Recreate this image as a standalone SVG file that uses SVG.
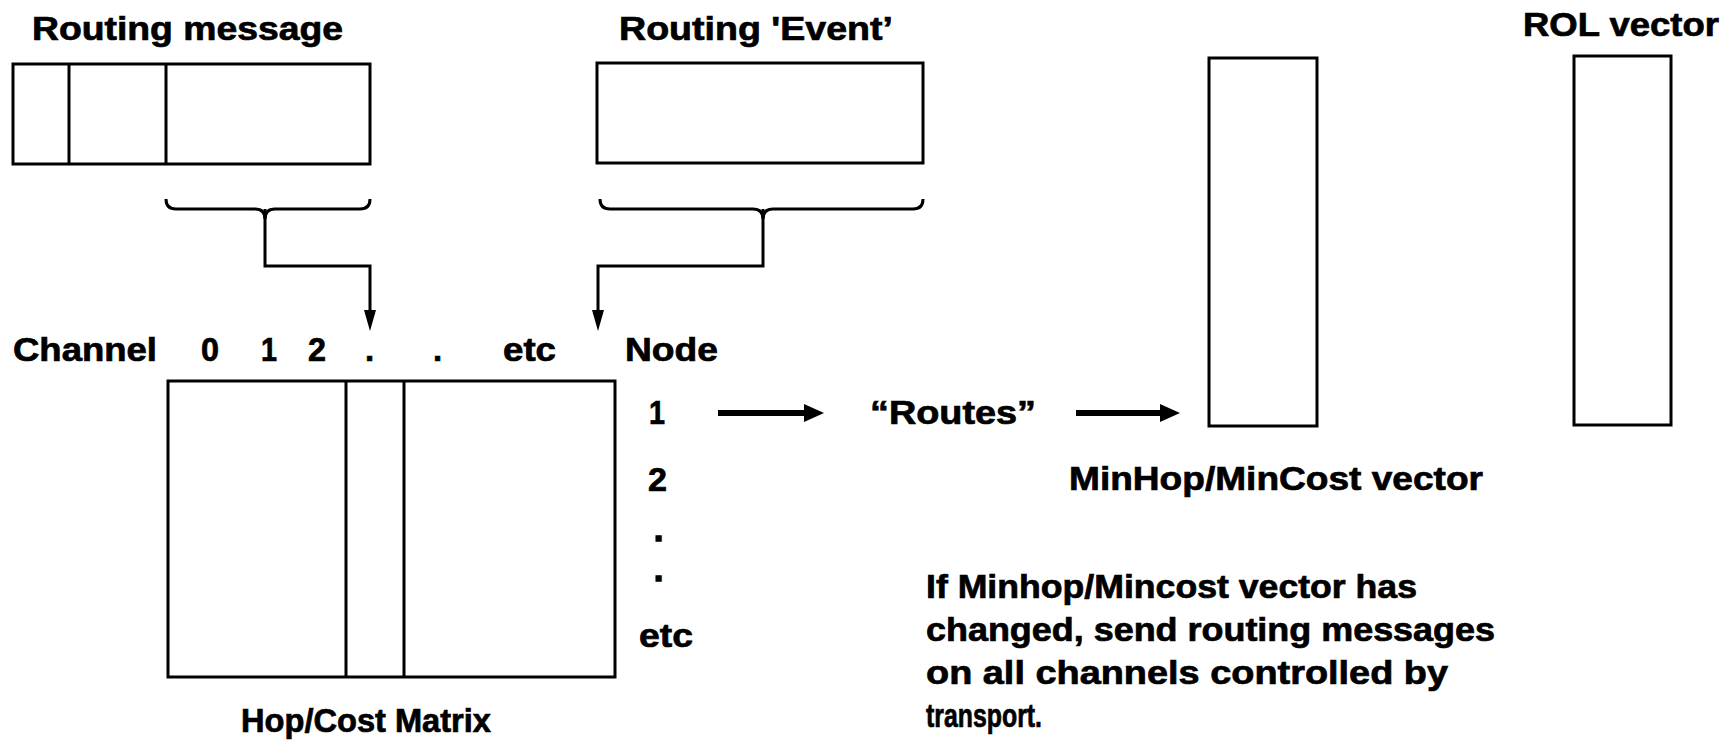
<svg xmlns="http://www.w3.org/2000/svg" width="1733" height="741" viewBox="0 0 1733 741">
<style>
text{font-family:"Liberation Sans",Arial,sans-serif;font-weight:bold;font-size:33px;fill:#000;stroke:#000;stroke-width:0.7}
text.dot{stroke-width:1.6}
.box{fill:none;stroke:#000;stroke-width:3}
.ln{fill:none;stroke:#000;stroke-width:3}
.thick{fill:none;stroke:#000;stroke-width:6}
.head{fill:#000}
</style>

<g id="routing-message">
<text x="32" y="40" textLength="311" lengthAdjust="spacingAndGlyphs">Routing message</text>
<rect class="box" x="13" y="64" width="357" height="100"/>
<line class="ln" x1="69" y1="64" x2="69" y2="164"/>
<line class="ln" x1="166" y1="64" x2="166" y2="164"/>
</g>

<g id="routing-event">
<text x="619" y="40" textLength="274" lengthAdjust="spacingAndGlyphs">Routing 'Event’</text>
<rect class="box" x="597" y="63" width="326" height="100"/>
</g>

<g id="rol-vector">
<text x="1523" y="36" textLength="196" lengthAdjust="spacingAndGlyphs">ROL vector</text>
<rect class="box" x="1574" y="56" width="97" height="369"/>
</g>

<g id="minhop-vector">
<rect class="box" x="1209" y="58" width="108" height="368"/>
<text x="1069" y="490" textLength="414" lengthAdjust="spacingAndGlyphs">MinHop/MinCost vector</text>
</g>

<g id="matrix">
<text x="13" y="361" textLength="144" lengthAdjust="spacingAndGlyphs">Channel</text>
<text x="201" y="361" textLength="18" lengthAdjust="spacingAndGlyphs">0</text>
<text x="261" y="361" textLength="16" lengthAdjust="spacingAndGlyphs">1</text>
<text x="308" y="361" textLength="18" lengthAdjust="spacingAndGlyphs">2</text>
<text x="365" y="361">.</text>
<text x="433" y="361">.</text>
<text x="503" y="361" textLength="53" lengthAdjust="spacingAndGlyphs">etc</text>
<text x="625" y="361" textLength="93" lengthAdjust="spacingAndGlyphs">Node</text>
<rect class="box" x="168" y="381" width="447" height="296"/>
<line class="ln" x1="346" y1="381" x2="346" y2="677"/>
<line class="ln" x1="404" y1="381" x2="404" y2="677"/>
<text x="649" y="424" textLength="16" lengthAdjust="spacingAndGlyphs">1</text>
<text x="648" y="491" textLength="19" lengthAdjust="spacingAndGlyphs">2</text>
<text class="dot" x="654" y="541">.</text>
<text class="dot" x="654" y="581">.</text>
<text x="639" y="647" textLength="54" lengthAdjust="spacingAndGlyphs">etc</text>
<text x="241" y="732" textLength="250" lengthAdjust="spacingAndGlyphs">Hop/Cost Matrix</text>
</g>

<g id="routes">
<text x="870" y="424" textLength="166" lengthAdjust="spacingAndGlyphs">“Routes”</text>
</g>

<g id="note">
<text x="926" y="598" textLength="491" lengthAdjust="spacingAndGlyphs">If Minhop/Mincost vector has</text>
<text x="926" y="641" textLength="569" lengthAdjust="spacingAndGlyphs">changed, send routing messages</text>
<text x="926" y="684" textLength="522" lengthAdjust="spacingAndGlyphs">on all channels controlled by</text>
<text x="926" y="727" textLength="116" lengthAdjust="spacingAndGlyphs">transport.</text>
</g>

<g id="connectors">
<path class="ln" d="M166,199 Q166,209 176,209 L255,209 Q265,209 265,219 Q265,209 275,209 L360,209 Q370,209 370,199"/>
<path class="ln" d="M265,209 L265,266 L370,266 L370,312"/>
<path class="head" d="M364,310 L370,331 L376,310 Z"/>
<path class="ln" d="M600,199 Q600,209 610,209 L753,209 Q763,209 763,219 Q763,209 773,209 L913,209 Q923,209 923,199"/>
<path class="ln" d="M763,209 L763,266 L598,266 L598,312"/>
<path class="head" d="M592,310 L598,331 L604,310 Z"/>
<line class="thick" x1="718" y1="413" x2="808" y2="413"/>
<path class="head" d="M804,404 L824,413 L804,422 Z"/>
<line class="thick" x1="1076" y1="413" x2="1164" y2="413"/>
<path class="head" d="M1160,404 L1180,413 L1160,422 Z"/>
</g>
</svg>
